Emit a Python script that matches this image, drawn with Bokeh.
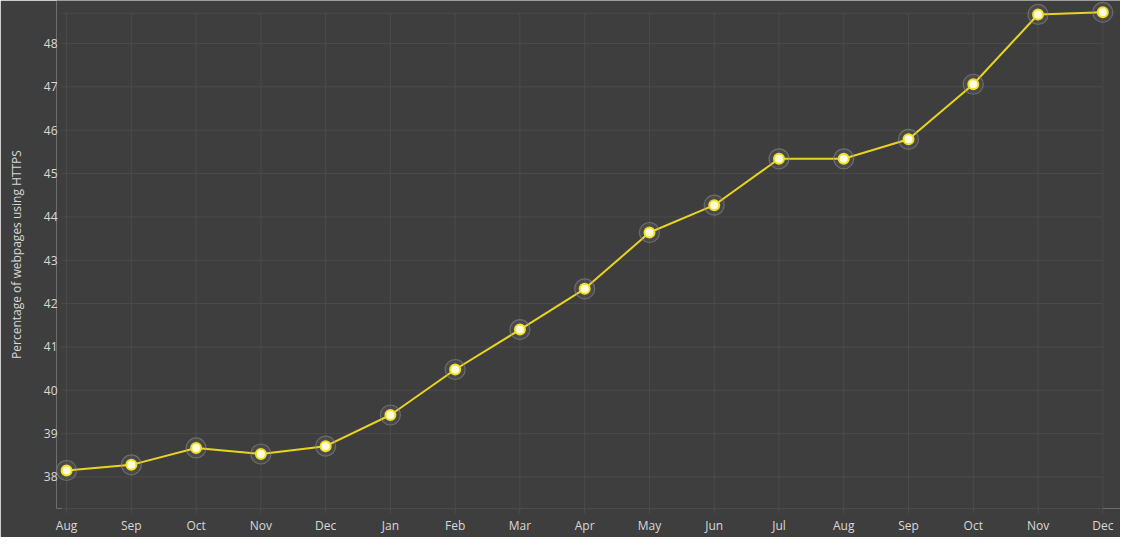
from bokeh.plotting import figure
from bokeh.models import Range1d, FixedTicker, ColumnDataSource
from bokeh.embed import file_html
from bokeh.resources import INLINE

months = ["Aug", "Sep", "Oct", "Nov", "Dec", "Jan", "Feb", "Mar", "Apr",
          "May", "Jun", "Jul", "Aug", "Sep", "Oct", "Nov", "Dec"]
https_pct = [38.15, 38.28, 38.67, 38.53, 38.71, 39.43, 40.48, 41.40, 42.34,
             43.64, 44.27, 45.34, 45.34, 45.79, 47.06, 48.67, 48.72]
y_ticks = [38, 39, 40, 41, 42, 43, 44, 45, 46, 47, 48]
y_box = (37.273, 48.70)          # bottom / top of the drawn chart box

idx = list(range(len(months)))
src = ColumnDataSource(dict(x=idx, y=https_pct))

BG = "#3e3e3e"
GRID = "#4b4b4b"
TXT = "#d8d8d8"
FONT = "Open Sans"

W, H = 1120, 537
BL, BR, BT, BB = 56, 0, 0, 29
PX_X = 64.76                      # pixels per category step
PX_Y = 43.35                      # pixels per percent
x_start = -(66.1 - BL) / PX_X
x_end = (len(months) - 1) + (W - BR - 1102.3) / PX_X
y_end = 48 + (43.0 - BT) / PX_Y

p = figure(width=W, height=H, output_backend="svg", toolbar_location=None,
           x_range=Range1d(x_start, x_end), y_range=Range1d(y_box[0], y_end),
           min_border_left=BL, min_border_right=BR, min_border_top=BT,
           min_border_bottom=BB)
p.background_fill_color = BG
p.border_fill_color = BG
p.outline_line_color = None
p.xgrid.visible = False
p.ygrid.visible = False

# chart box / grid lines drawn from the tick lists
x_left = -5 / PX_X
hy = y_ticks + [y_box[1]]
p.segment(x0=[x_left] * len(hy), x1=[idx[-1]] * len(hy), y0=hy, y1=hy,
          line_color=GRID, line_width=1)
p.segment(x0=idx, x1=idx, y0=[y_box[0]] * len(idx), y1=[y_box[1]] * len(idx),
          line_color=GRID, line_width=1)

p.line("x", "y", source=src, line_color="#e8d41e", line_width=2)
p.scatter("x", "y", source=src, size=20, fill_color="#ffffff", fill_alpha=0.06,
          line_color="#8c8c8c", line_alpha=0.55, line_width=1.2)
p.scatter("x", "y", source=src, size=10, fill_color="#fffbe0",
          line_color="#f2e020", line_width=2)

p.xaxis.ticker = FixedTicker(ticks=idx)
p.xaxis.major_label_overrides = {i: m for i, m in enumerate(months)}
p.xaxis.bounds = (x_left, idx[-1])
p.xaxis.axis_line_color = GRID
p.xaxis.major_tick_line_color = GRID
p.xaxis.major_tick_out = 5
p.xaxis.major_tick_in = 0
p.xaxis.major_label_standoff = 3

p.yaxis.ticker = FixedTicker(ticks=y_ticks)
p.yaxis.axis_line_color = None
p.yaxis.major_tick_line_color = None
p.yaxis.major_tick_out = 0
p.yaxis.major_tick_in = 0
p.yaxis.major_label_standoff = -1

for ax in (p.xaxis, p.yaxis):
    ax.minor_tick_line_color = None
    ax.major_label_text_color = TXT
    ax.major_label_text_font = FONT
    ax.major_label_text_font_size = "12px"

p.yaxis.axis_label = "Percentage of webpages using HTTPS"
p.yaxis.axis_label_text_color = TXT
p.yaxis.axis_label_text_font = FONT
p.yaxis.axis_label_text_font_size = "12px"
p.yaxis.axis_label_text_font_style = "normal"
p.yaxis.axis_label_standoff = 16

open("out.html", "w").write(file_html(p, INLINE))
